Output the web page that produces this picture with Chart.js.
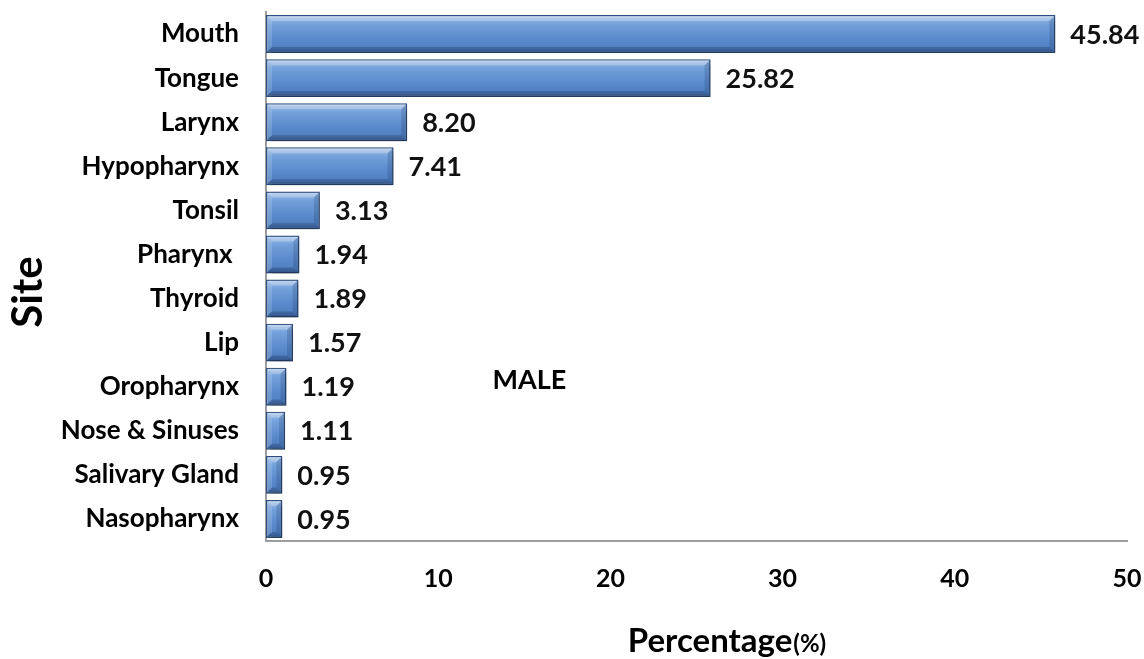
<!DOCTYPE html>
<html>
<head>
<meta charset="utf-8">
<title>Site distribution - male</title>
<script src="https://cdn.jsdelivr.net/npm/chart.js@4.4.1/dist/chart.umd.min.js"></script>
<style>
  html, body { margin: 0; padding: 0; background: #fff; }
  #wrap { width: 1144px; height: 659px; position: relative; }
</style>
</head>
<body>
<div id="wrap"><canvas id="chart"></canvas></div>
<script>
// --- Data ---
const sites = ["Mouth", "Tongue", "Larynx", "Hypopharynx", "Tonsil", "Pharynx ", "Thyroid",
               "Lip", "Oropharynx", "Nose & Sinuses", "Salivary Gland", "Nasopharynx"];
const percentages = [45.84, 25.82, 8.20, 7.41, 3.13, 1.94, 1.89, 1.57, 1.19, 1.11, 0.95, 0.95];
const xTicks = [0, 10, 20, 30, 40, 50];
const groupLabel = "MALE";
const xTitle = "Percentage";
const xTitleUnit = "(%)";
const yTitle = "Site";

const FONT = "Lato, 'Open Sans', sans-serif";
const BAR_PCT = 0.86;

// vertical gradient for each bar, worked out from the category scale
function barFill(context) {
  const chart = context.chart;
  const yScale = chart.scales && chart.scales.y;
  if (!chart.chartArea || !yScale || yScale.height == null) return "#5a8bcb";
  const c = yScale.getPixelForValue(context.dataIndex);
  const half = (yScale.height / sites.length) * BAR_PCT / 2;
  const g = chart.ctx.createLinearGradient(0, c - half, 0, c + half);
  g.addColorStop(0, "#c2d7f2");
  g.addColorStop(0.1, "#8cb1e2");
  g.addColorStop(0.25, "#73a0da");
  g.addColorStop(0.6, "#5c8ccd");
  g.addColorStop(0.88, "#4f7fc0");
  g.addColorStop(1, "#3a6298");
  return g;
}

// soft drop shadow under the bars
const barShadow = {
  id: "barShadow",
  beforeDatasetsDraw(chart) {
    const ctx = chart.ctx;
    ctx.save();
    ctx.shadowColor = "rgba(0,0,0,0.35)";
    ctx.shadowBlur = 5;
    ctx.shadowOffsetX = 2;
    ctx.shadowOffsetY = 3;
  },
  afterDatasetsDraw(chart) {
    chart.ctx.restore();
  }
};

// bevelled edges + value labels at the bar ends
const barDecor = {
  id: "barDecor",
  afterDatasetsDraw(chart) {
    const ctx = chart.ctx;
    const meta = chart.getDatasetMeta(0);
    ctx.save();
    meta.data.forEach((bar, i) => {
      const x0 = bar.base, x1 = bar.x;
      const top = bar.y - bar.height / 2, bot = bar.y + bar.height / 2;
      const b = Math.min(6, (x1 - x0) / 2);
      // top highlight
      ctx.fillStyle = "rgba(255,255,255,0.28)";
      ctx.beginPath();
      ctx.moveTo(x0 + 1, top + 1); ctx.lineTo(x1 - 1, top + 1);
      ctx.lineTo(x1 - b, top + b); ctx.lineTo(x0 + b, top + b);
      ctx.closePath(); ctx.fill();
      // left highlight
      ctx.fillStyle = "rgba(255,255,255,0.15)";
      ctx.beginPath();
      ctx.moveTo(x0 + 1, top + 1); ctx.lineTo(x0 + b, top + b);
      ctx.lineTo(x0 + b, bot - b); ctx.lineTo(x0 + 1, bot - 1);
      ctx.closePath(); ctx.fill();
      // right shade
      ctx.fillStyle = "rgba(25,55,100,0.22)";
      ctx.beginPath();
      ctx.moveTo(x1 - 1, top + 1); ctx.lineTo(x1 - 1, bot - 1);
      ctx.lineTo(x1 - b, bot - b); ctx.lineTo(x1 - b, top + b);
      ctx.closePath(); ctx.fill();
      // bottom shade
      ctx.fillStyle = "rgba(20,40,80,0.28)";
      ctx.beginPath();
      ctx.moveTo(x0 + 1, bot - 1); ctx.lineTo(x1 - 1, bot - 1);
      ctx.lineTo(x1 - b, bot - b); ctx.lineTo(x0 + b, bot - b);
      ctx.closePath(); ctx.fill();

      // value label
      ctx.fillStyle = "#111";
      ctx.font = `bold 27px ${FONT}`;
      ctx.textAlign = "left";
      ctx.textBaseline = "middle";
      ctx.fillText(percentages[i].toFixed(2), x1 + 15, bar.y + 1);
    });
    ctx.restore();
  }
};

// axis titles and the group tag
const chartTexts = {
  id: "chartTexts",
  afterDraw(chart) {
    const ctx = chart.ctx;
    const area = chart.chartArea;
    const xs = chart.scales.x, ys = chart.scales.y;
    ctx.save();
    ctx.fillStyle = "#000";

    // group tag inside the plot
    ctx.font = `bold 27px ${FONT}`;
    ctx.textAlign = "center";
    ctx.textBaseline = "middle";
    ctx.fillText(groupLabel, xs.getPixelForValue(15.3), ys.getPixelForValue(7.85));

    // x title: big word, small unit
    ctx.textBaseline = "alphabetic";
    ctx.textAlign = "left";
    const bigFont = `bold 33px ${FONT}`, smallFont = `bold 24px ${FONT}`;
    ctx.font = bigFont;
    const w1 = ctx.measureText(xTitle).width;
    ctx.font = smallFont;
    const w2 = ctx.measureText(xTitleUnit).width;
    const cx = (area.left + area.right) / 2 + 30;
    const startX = cx - (w1 + w2) / 2;
    const baseY = 652;
    ctx.font = bigFont;
    ctx.fillText(xTitle, startX, baseY);
    ctx.font = smallFont;
    ctx.fillText(xTitleUnit, startX + w1 + 1, baseY);

    // y title, rotated
    ctx.save();
    ctx.translate(28, 292);
    ctx.rotate(-Math.PI / 2);
    ctx.font = `bold 42px ${FONT}`;
    ctx.textAlign = "center";
    ctx.textBaseline = "middle";
    ctx.fillText(yTitle, 0, 0);
    ctx.restore();

    ctx.restore();
  }
};

// drop the extra room Chart.js keeps for overhanging tick labels
function noOverhang(scale) {
  scale.paddingTop = 0;
  scale.paddingBottom = 0;
  scale.paddingLeft = 0;
  scale.paddingRight = 0;
}

const chart = new Chart(document.getElementById("chart"), {
  type: "bar",
  data: {
    labels: sites,
    datasets: [{
      label: groupLabel,
      data: percentages,
      backgroundColor: barFill,
      borderColor: "#2f5083",
      borderWidth: 1.5,
      borderSkipped: false,
      barPercentage: BAR_PCT,
      categoryPercentage: 1
    }]
  },
  options: {
    indexAxis: "y",
    responsive: true,
    maintainAspectRatio: false,
    animation: false,
    layout: { padding: { top: 12, right: 17, bottom: 0, left: 0 } },
    plugins: {
      legend: { display: false },
      tooltip: { enabled: false }
    },
    scales: {
      x: {
        type: "linear",
        min: 0,
        max: 50,
        afterBuildTicks: scale => { scale.ticks = xTicks.map(v => ({ value: v })); },
        afterFit: scale => { scale.height = 118; noOverhang(scale); },
        grid: { display: false, drawTicks: false },
        border: { display: true, color: "#9d9d9d", width: 2 },
        ticks: {
          color: "#000",
          padding: 23,
          maxRotation: 0,
          font: { family: FONT, size: 25, weight: "bold" }
        }
      },
      y: {
        afterFit: scale => { scale.width = 266; noOverhang(scale); },
        grid: { display: false, drawTicks: false },
        border: { display: true, color: "#9d9d9d", width: 2 },
        ticks: {
          color: "#000",
          padding: 27,
          autoSkip: false,
          font: { family: FONT, size: 26, weight: "bold" }
        }
      }
    }
  },
  plugins: [barShadow, barDecor, chartTexts]
});
</script>
</body>
</html>
